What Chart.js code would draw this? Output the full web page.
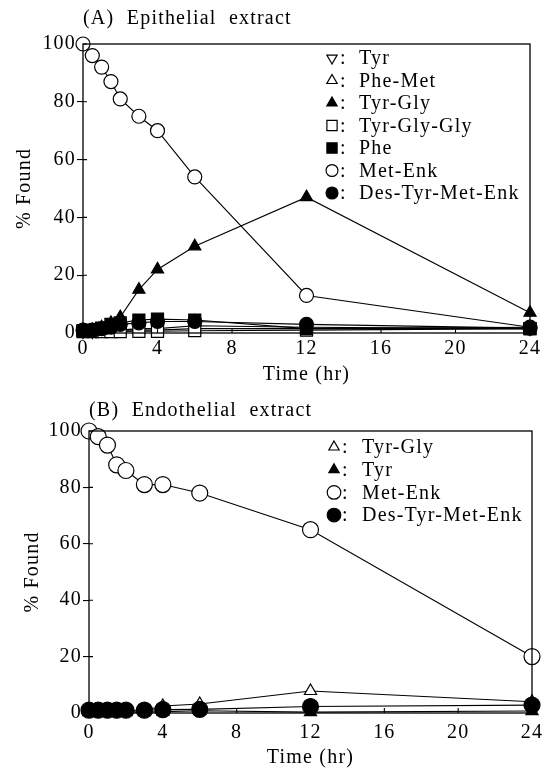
<!DOCTYPE html>
<html>
<head>
<meta charset="utf-8">
<script src="https://cdn.jsdelivr.net/npm/chart.js@4/dist/chart.umd.min.js"></script>
<style>
  html, body { margin: 0; padding: 0; background: #fff; }
  #wrap { position: relative; width: 550px; height: 771px; }
  .panel { position: absolute; left: 0; width: 550px; }
  canvas { display: block; }
</style>
</head>
<body>
<div id="wrap">
  <div class="panel" style="top:0;height:388px"><canvas id="chartA" width="550" height="388"></canvas></div>
  <div class="panel" style="top:388px;height:383px"><canvas id="chartB" width="550" height="383"></canvas></div>
</div>
<script>
// Sampling times (hr) and axis ticks
const timeHr = [0, 0.5, 1, 1.5, 2, 3, 4, 6, 12, 24];
const xTicks = [0, 4, 8, 12, 16, 20, 24];
const yTicks = [0, 20, 40, 60, 80, 100];

// (A) Epithelial extract, % found
const epiTyr       = [0.5, 0.5, 1, 1, 1, 1.5, 1.5, 2.5, 2, 1.5];
const epiPheMet    = [0.5, 0.5, 0.5, 1, 1, 1, 1, 1.5, 1.5, 2];
const epiTyrGly    = [1, 1, 2, 3.5, 5.5, 15, 22, 30, 47, 7];
const epiTyrGlyGly = [0.5, 0.5, 0.5, 0.5, 0.5, 0.6, 0.6, 0.8, 1, 1.5];
const epiPhe       = [0.8, 1, 1.7, 3, 3.5, 4.5, 4.8, 4.5, 1.5, 1.5];
const epiMetEnk    = [100, 96, 92, 87, 81, 75, 70, 54, 13, 2];
const epiDesTyr    = [1, 1, 1.5, 2, 3, 3.5, 4, 4, 3, 1.7];

// (B) Endothelial extract, % found
const endoTyrGly = [0.5, 0.5, 0.5, 0.5, 0.5, 1, 2.5, 3.2, 7.8, 4];
const endoTyr    = [0.3, 0.3, 0.3, 0.3, 0.3, 0.3, 0.5, 0.8, 0.3, 0.7];
const endoMetEnk = [100, 98, 95, 88, 86, 81, 81, 78, 65, 20];
const endoDesTyr = [1, 1, 1, 1, 1, 1, 1.2, 1.3, 2.3, 2.8];

const FONT = 'Liberation Serif, Times New Roman, serif';
const SPACING = '1.2px';
Chart.defaults.font.family = FONT;
Chart.defaults.font.size = 20;
Chart.defaults.color = '#000';

// Marker styles
const MARK = {
  openDown:  { pointStyle: 'triangle', rotation: 180, filled: false, r: 7 },
  openUp:    { pointStyle: 'triangle', rotation: 0,   filled: false, r: 7 },
  fillUp:    { pointStyle: 'triangle', rotation: 0,   filled: true,  r: 7 },
  openSq:    { pointStyle: 'rect',     rotation: 0,   filled: false, r: 8.5 },
  fillSq:    { pointStyle: 'rect',     rotation: 0,   filled: true,  r: 8.5 },
  openCirc:  { pointStyle: 'circle',   rotation: 0,   filled: false, r: 7 },
  fillCirc:  { pointStyle: 'circle',   rotation: 0,   filled: true,  r: 7 }
};

// Letter spacing for all canvas text
const spacingPlugin = {
  id: 'spacing',
  beforeDraw(chart) { chart.ctx.letterSpacing = SPACING; }
};

// Closed frame plus inward tick marks
const framePlugin = {
  id: 'frame',
  afterDatasetsDraw(chart) {
    const { ctx, chartArea: a, scales } = chart;
    ctx.save();
    ctx.strokeStyle = '#000';
    ctx.lineWidth = 1.3;
    ctx.strokeRect(a.left, a.top, a.right - a.left, a.bottom - a.top);
    ctx.lineWidth = 1.1;
    ctx.beginPath();
    scales.x.ticks.forEach(t => {
      const px = scales.x.getPixelForValue(t.value);
      ctx.moveTo(px, a.bottom);
      ctx.lineTo(px, a.bottom - 5);
    });
    scales.y.ticks.forEach(t => {
      const py = scales.y.getPixelForValue(t.value);
      ctx.moveTo(a.left, py);
      ctx.lineTo(a.left + 4, py);
    });
    ctx.stroke();
    ctx.restore();
  }
};

// Marker key inside the plot: symbol, colon, compound name
const keyPlugin = {
  id: 'seriesKey',
  afterDraw(chart, args, opts) {
    const { ctx, chartArea: a } = chart;
    chart.data.datasets.forEach((ds, i) => {
      const x = a.left + opts.dx;
      const y = a.top + opts.dy + i * opts.rowH;
      ctx.save();
      ctx.letterSpacing = SPACING;
      ctx.fillStyle = ds.pointBackgroundColor;
      ctx.strokeStyle = '#000';
      ctx.lineWidth = 1.2;
      Chart.helpers.drawPoint(ctx, {
        pointStyle: ds.pointStyle,
        rotation: ds.pointRotation,
        radius: ds.pointRadius * 0.85,
        borderWidth: 1.2
      }, x, y);
      ctx.fillStyle = '#000';
      ctx.font = '20px ' + FONT;
      ctx.textBaseline = 'middle';
      ctx.textAlign = 'left';
      ctx.fillText(':', x + 8, y + 1);
      ctx.fillText(ds.label, x + opts.textGap, y + 1);
      ctx.restore();
    });
  }
};

function makeSeries(name, values, mark, order) {
  return {
    label: name,
    data: timeHr.map((t, i) => ({ x: t, y: values[i] })),
    borderColor: '#000',
    borderWidth: 1.1,
    pointStyle: mark.pointStyle,
    pointRotation: mark.rotation,
    pointRadius: mark.r,
    pointBackgroundColor: mark.filled ? '#000' : '#fff',
    pointBorderColor: '#000',
    pointBorderWidth: 1.2,
    fill: false,
    tension: 0,
    clip: false,
    order: order
  };
}

function makePanel(canvasId, cfg) {
  return new Chart(document.getElementById(canvasId), {
    type: 'line',
    data: { datasets: cfg.series },
    plugins: [spacingPlugin, framePlugin, keyPlugin],
    options: {
      responsive: false,
      animation: false,
      events: [],
      layout: { padding: { left: 0, right: cfg.padRight, top: 0, bottom: 0 } },
      plugins: {
        legend: { display: false },
        tooltip: { enabled: false },
        title: {
          display: true,
          text: cfg.title,
          align: 'start',
          fullSize: false,
          color: '#000',
          font: { family: FONT, size: 20, weight: 'normal' },
          padding: cfg.titlePad
        },
        seriesKey: cfg.key
      },
      scales: {
        x: {
          type: 'linear',
          min: 0,
          max: 24,
          afterBuildTicks: s => { s.ticks = xTicks.map(v => ({ value: v })); },
          afterFit: s => { s.height = cfg.xAxisH; },
          border: { display: false },
          grid: { drawOnChartArea: false, drawTicks: false, display: true, color: '#000' },
          ticks: { padding: cfg.xTickPad, maxRotation: 0, autoSkip: false, color: '#000' },
          title: { display: true, text: 'Time (hr)', color: '#000', padding: { top: 0, bottom: 1 } }
        },
        y: {
          min: 0,
          max: 100,
          afterBuildTicks: s => { s.ticks = yTicks.map(v => ({ value: v })); },
          afterFit: s => { s.width = cfg.yAxisW; },
          border: { display: false },
          grid: { drawOnChartArea: false, drawTicks: true, tickLength: 6, color: '#000', lineWidth: 1.1 },
          ticks: { padding: 1, color: '#000' },
          title: { display: true, text: '% Found', color: '#000', padding: { top: cfg.yTitlePad, bottom: 0 } }
        }
      }
    }
  });
}

makePanel('chartA', {
  title: '(A)  Epithelial  extract',
  padRight: 20,
  xAxisH: 55,
  yAxisW: 83,
  xTickPad: 4,
  yTitlePad: 13,
  titlePad: { top: 7, bottom: 13 },
  key: { dx: 249, dy: 14, rowH: 22.5, textGap: 27 },
  series: [
    makeSeries('Tyr', epiTyr, MARK.openDown, 6),
    makeSeries('Phe-Met', epiPheMet, MARK.openUp, 5),
    makeSeries('Tyr-Gly', epiTyrGly, MARK.fillUp, 1),
    makeSeries('Tyr-Gly-Gly', epiTyrGlyGly, MARK.openSq, 4),
    makeSeries('Phe', epiPhe, MARK.fillSq, 3),
    makeSeries('Met-Enk', epiMetEnk, MARK.openCirc, 2),
    makeSeries('Des-Tyr-Met-Enk', epiDesTyr, MARK.fillCirc, 0)
  ]
});

const bigCirc = Object.assign({}, MARK.openCirc, { r: 8 });
const bigDot = Object.assign({}, MARK.fillCirc, { r: 8 });

makePanel('chartB', {
  title: '(B)  Endothelial  extract',
  padRight: 15,
  xAxisH: 58,
  yAxisW: 89,
  xTickPad: 8,
  yTitlePad: 21,
  titlePad: { top: 11, bottom: 8 },
  key: { dx: 245, dy: 16, rowH: 22.7, textGap: 28 },
  series: [
    makeSeries('Tyr-Gly', endoTyrGly, MARK.openUp, 3),
    makeSeries('Tyr', endoTyr, MARK.fillUp, 1),
    makeSeries('Met-Enk', endoMetEnk, bigCirc, 0),
    makeSeries('Des-Tyr-Met-Enk', endoDesTyr, bigDot, 2)
  ]
});
</script>
</body>
</html>
